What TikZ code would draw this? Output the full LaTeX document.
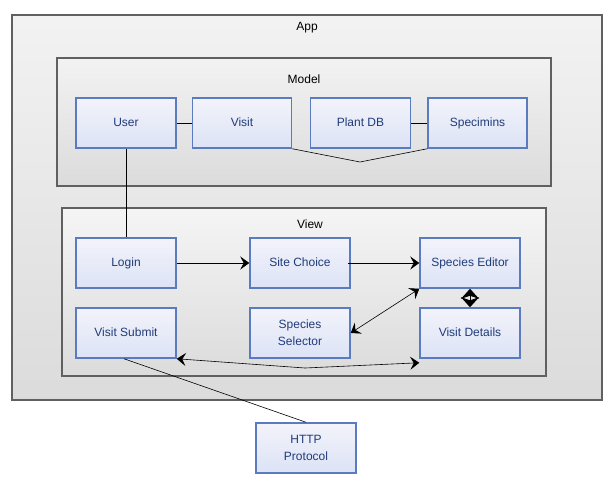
\documentclass[tikz,border=0pt]{standalone}
\usepackage{fontspec}
\setmainfont{Liberation Sans}
\usepackage{xcolor}
\usepackage{tikz}
\usetikzlibrary{arrows.meta,positioning}

\definecolor{boxline}{HTML}{5B7BC0}
\definecolor{boxtext}{HTML}{1F3C7A}
\definecolor{boxtop}{HTML}{F3F3FA}
\definecolor{boxbot}{HTML}{DCE3F6}
\definecolor{pkgline}{HTML}{606060}

\begin{document}
\begin{tikzpicture}[x=1pt,y=-1pt,>={Stealth[length=9pt,width=13pt,inset=3.5pt]},
                    semithick,font=\fontsize{12}{14}\selectfont]
  \tikzstyle{pkg}=[draw=pkgline,line width=1.5pt,top color=#1,bottom color=black!14]
  \tikzstyle{comp}=[draw=boxline,line width=1.5pt,top color=boxtop,bottom color=boxbot,
                    text=boxtext,minimum width=100pt,minimum height=50pt,
                    align=center,inner sep=2pt,text height=8.5pt,text depth=2.5pt]
  \tikzstyle{twoline}=[text height=,text depth=]
  \useasboundingbox (0,0) rectangle (615,483);

  % containers
  \draw[pkg=black!5] (12,15) rectangle (602,400);
  \node (App) at (307,28) {App};
  \draw[pkg=black!5] (57,58) rectangle (551,186);
  \node (Model) at (304,79) {Model};
  \draw[pkg=black!4] (62,208) rectangle (546,376);
  \node (View) at (310,224) {View};

  % model
  \node[comp] (User)      at (126,123) {User};
  \node[comp] (Visit)     [right=15pt of User, minimum width=99pt] {Visit};
  \node[comp] (PlantDB)   at (360.5,123) {Plant DB};
  \node[comp] (Specimins) [right=16pt of PlantDB, minimum width=99pt] {Specimins};

  % view
  \node[comp] (Login)           at (126,263) {Login};
  \node[comp] (SiteChoice)      at (300,263) {Site Choice};
  \node[comp] (SpeciesEditor)   at (470,263) {Species Editor};
  \node[comp] (VisitSubmit)     at (126,333) {Visit Submit};
  \node[comp,twoline] (SpeciesSelector) at (300,333) {Species\\[3pt]Selector};
  \node[comp] (VisitDetails)    at (470,333) {Visit Details};

  \node[comp,twoline] (HTTP) at (306,448) {HTTP\\[3pt]Protocol};

  \coordinate (VisitSpec) at (360,162);
  \coordinate (SubmitDet) at (305,368);

  \draw (User) -- (Visit);
  \draw (PlantDB) -- (Specimins);
  \draw (Visit.south east) -- (VisitSpec) -- (Specimins.south west);
  \draw (User) -- (Login);

  \draw[->] (Login) -- (SiteChoice);
  \draw[->] ([xshift=-3pt]SiteChoice.east) -- (SpeciesEditor);
  \draw[<->] (SpeciesSelector.east) -- (SpeciesEditor.south west);
  \draw[<->,line width=1pt,>={Stealth[length=10pt,width=18pt,inset=3pt]}] (SpeciesEditor) -- (VisitDetails);
  \draw[<->] (VisitSubmit.south east) -- (SubmitDet) -- ([yshift=-4pt]VisitDetails.south west);
  \draw ([xshift=-2pt]VisitSubmit.south) -- (HTTP.north);
\end{tikzpicture}
\end{document}
